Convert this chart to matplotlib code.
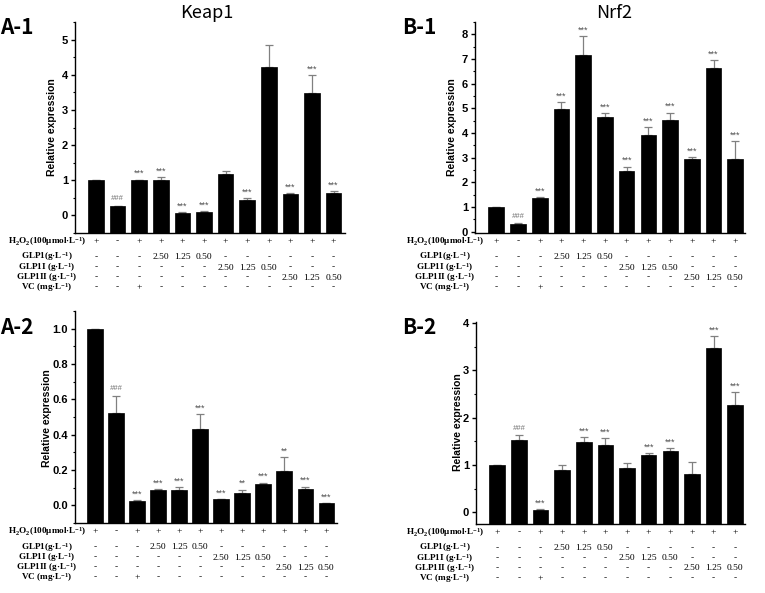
import matplotlib
matplotlib.use("Agg")
import matplotlib.pyplot as plt
import numpy as np
from matplotlib.ticker import MultipleLocator, FormatStrFormatter
from matplotlib.transforms import blended_transform_factory

plt.rcParams['mathtext.fontset'] = 'custom'
plt.rcParams['mathtext.rm'] = 'Liberation Serif:bold'
plt.rcParams['mathtext.it'] = 'Liberation Serif:italic:bold'
plt.rcParams['mathtext.bf'] = 'Liberation Serif:bold'
plt.rcParams['mathtext.default'] = 'rm'

# ---------------- data ----------------
groups = list(range(12))

# Keap1 (A-1)
keap1_a1 = [1.00, 0.26, 1.00, 1.00, 0.08, 0.11, 1.18, 0.45, 4.23, 0.62, 3.47, 0.65]
keap1_a1_err = [0.0, 0.01, 0.02, 0.09, 0.01, 0.02, 0.08, 0.04, 0.63, 0.02, 0.51, 0.04]
keap1_a1_sig = ['', '###', '***', '***', '***', '***', '', '***', '', '***', '***', '***']

# Nrf2 (B-1)
nrf2_b1 = [1.00, 0.33, 1.36, 4.99, 7.16, 4.64, 2.48, 3.94, 4.52, 2.95, 6.65, 2.93]
nrf2_b1_err = [0.0, 0.02, 0.04, 0.28, 0.76, 0.16, 0.16, 0.32, 0.31, 0.08, 0.30, 0.74]
nrf2_b1_sig = ['', '###', '***', '***', '***', '***', '***', '***', '***', '***', '***', '***']

# Keap1 (A-2)
keap1_a2 = [1.00, 0.52, 0.025, 0.085, 0.085, 0.43, 0.034, 0.072, 0.123, 0.197, 0.093, 0.013]
keap1_a2_err = [0.0, 0.10, 0.005, 0.008, 0.019, 0.085, 0.002, 0.017, 0.006, 0.074, 0.013, 0.0]
keap1_a2_sig = ['', '###', '***', '***', '***', '***', '***', '**', '***', '**', '***', '***']

# Nrf2 (B-2)
nrf2_b2 = [1.00, 1.52, 0.056, 0.89, 1.48, 1.41, 0.94, 1.20, 1.29, 0.80, 3.46, 2.26]
nrf2_b2_err = [0.0, 0.11, 0.014, 0.10, 0.10, 0.16, 0.11, 0.05, 0.07, 0.26, 0.27, 0.28]
nrf2_b2_sig = ['', '###', '***', '', '***', '***', '', '***', '***', '', '***', '***']

# treatment table
row_labels = [r'H$_2$O$_2$(100μmol·L$^{-1}$)', r'GLP1(g·L$^{-1}$)',
              r'GLP1I (g·L$^{-1}$)', r'GLP1II (g·L$^{-1}$)', r'VC (mg·L$^{-1}$)']
h2o2_row = ['+', '-', '+', '+', '+', '+', '+', '+', '+', '+', '+', '+']
glp1_row = ['-', '-', '-', '2.50', '1.25', '0.50', '-', '-', '-', '-', '-', '-']
glp1i_row = ['-', '-', '-', '-', '-', '-', '2.50', '1.25', '0.50', '-', '-', '-']
glp1ii_row = ['-', '-', '-', '-', '-', '-', '-', '-', '-', '2.50', '1.25', '0.50']
vc_row = ['-', '-', '+', '-', '-', '-', '-', '-', '-', '-', '-', '-']
table_rows = [h2o2_row, glp1_row, glp1i_row, glp1ii_row, vc_row]

W, H = 765, 593
fig = plt.figure(figsize=(W / 100, H / 100), dpi=100)


def fx(x):
    return x / W


def fy(y):
    return 1 - y / H


def add_axes_px(l, t, r, b):
    return fig.add_axes([fx(l), fy(b), (r - l) / W, (b - t) / H])


def draw_panel(ax, vals, errs, sig, ylim, xlim, major, minor, fmt):
    vals = np.asarray(vals, float)
    errs = np.asarray(errs, float)
    ymin = ylim[0]
    ax.bar(groups, vals - ymin, bottom=ymin, width=0.72, color='black',
           edgecolor='black', linewidth=0.5, zorder=2)
    ax.errorbar(groups, vals, yerr=[np.zeros_like(errs), errs], fmt='none',
                ecolor='#808080', elinewidth=0.9, capsize=3, capthick=0.9, zorder=1)
    for x, v, e, s in zip(groups, vals, errs, sig):
        if not s:
            continue
        if s.startswith('#'):
            ax.annotate(s, (x, v + e), xytext=(0, 2.5), textcoords='offset points',
                        ha='center', va='bottom', fontsize=5.5, style='italic',
                        color='#707070', family='Liberation Sans')
        else:
            ax.annotate(s, (x, v + e), xytext=(0, 1.0), textcoords='offset points',
                        ha='center', va='bottom', fontsize=6.5,
                        color='#505050', family='Liberation Sans')
    ax.set_ylim(*ylim)
    ax.set_xlim(*xlim)
    ax.yaxis.set_major_locator(MultipleLocator(major))
    ax.yaxis.set_major_formatter(FormatStrFormatter(fmt))
    ax.set_yticks([t for t in ax.get_yticks() if ylim[0] - 1e-9 <= t <= ylim[1] + 1e-9])
    ax.yaxis.set_minor_locator(MultipleLocator(minor))
    ax.spines['top'].set_visible(False)
    ax.spines['right'].set_visible(False)
    ax.spines['left'].set_linewidth(1.0)
    ax.spines['bottom'].set_linewidth(1.0)
    ax.set_xticks([])
    ax.tick_params(axis='y', which='major', length=3, width=1.0, labelsize=8, pad=2)
    ax.tick_params(axis='y', which='minor', length=1.8, width=0.8)
    for lab in ax.get_yticklabels():
        lab.set_fontweight('bold')
        lab.set_family('Liberation Sans')


def draw_table(ax, bottom_px, label_cx):
    offsets = [8.5, 24, 34.5, 44.5, 54.5]
    tr = blended_transform_factory(ax.transData, fig.transFigure)
    for off, lab, row in zip(offsets, row_labels, table_rows):
        y = fy(bottom_px + off)
        fig.text(fx(label_cx), y, lab, ha='center', va='center', fontsize=6.6,
                 family='Liberation Serif', weight='bold')
        for x, cell in zip(groups, row):
            ax.text(x, y, cell, transform=tr, ha='center', va='center',
                    fontsize=6.8, family='Liberation Serif', clip_on=False)


def ylabel(x, y):
    fig.text(fx(x), fy(y), 'Relative expression', rotation=90, ha='center',
             va='center', fontsize=7.5, weight='bold', family='Liberation Sans')


# ---- A-1 ----
ax1 = add_axes_px(75, 22, 345, 233)
draw_panel(ax1, keap1_a1, keap1_a1_err, keap1_a1_sig, (-0.5, 5.5), (-0.97, 11.53),
           1, 0.5, '%d')
draw_table(ax1, 233, 47)
ylabel(52, 127)

# ---- B-1 ----
ax2 = add_axes_px(475, 22, 745, 233)
draw_panel(ax2, nrf2_b1, nrf2_b1_err, nrf2_b1_sig, (-0.05, 8.5), (-0.98, 11.45),
           1, 0.5, '%d')
draw_table(ax2, 233, 445)
ylabel(452, 127)

# ---- A-2 ----
ax3 = add_axes_px(75, 311, 337, 523)
draw_panel(ax3, keap1_a2, keap1_a2_err, keap1_a2_sig, (-0.1, 1.1), (-0.95, 11.52),
           0.2, 0.1, '%.1f')
draw_table(ax3, 523, 47)
ylabel(47, 418)

# ---- B-2 ----
ax4 = add_axes_px(476, 322, 745, 524)
draw_panel(ax4, nrf2_b2, nrf2_b2_err, nrf2_b2_sig, (-0.25, 4.02), (-0.98, 11.45),
           1, 0.5, '%d')
draw_table(ax4, 524, 445)
ylabel(458, 422)

# titles and panel labels
fig.text(fx(207), fy(13), 'Keap1', ha='center', va='center', fontsize=13,
         family=['Noto Sans CJK SC', 'DejaVu Sans'])
fig.text(fx(614), fy(13), 'Nrf2', ha='center', va='center', fontsize=13,
         family=['Noto Sans CJK SC', 'DejaVu Sans'])
for txt, x, y in [('A-1', 0, 28), ('B-1', 402, 27), ('A-2', 0, 327), ('B-2', 402, 327)]:
    fig.text(fx(x), fy(y), txt, ha='left', va='center', fontsize=15, weight='bold',
             family=['Noto Sans CJK SC', 'DejaVu Sans'])

fig.savefig('out.png', dpi=100)
